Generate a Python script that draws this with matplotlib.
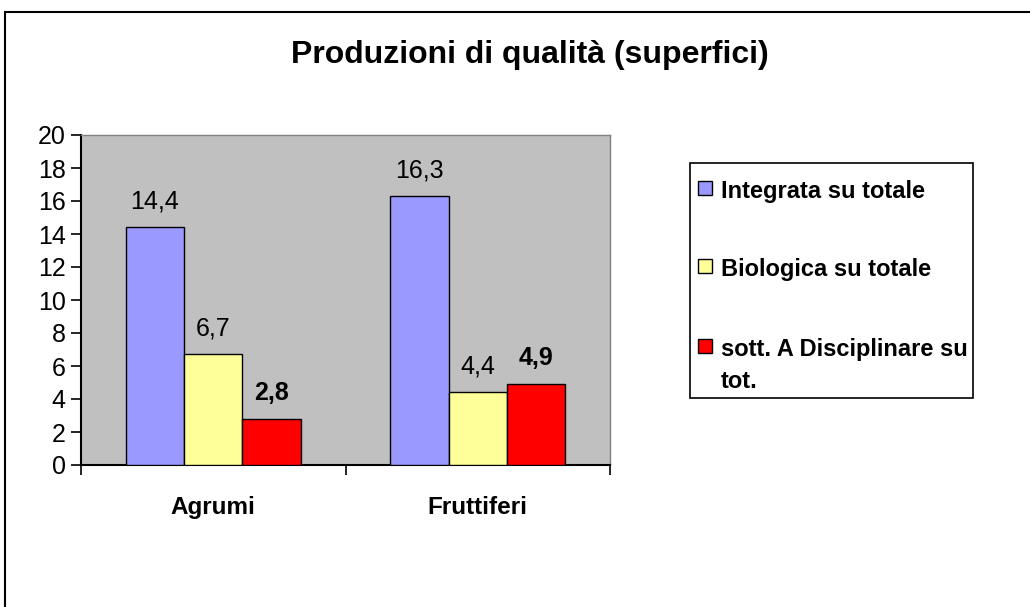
import matplotlib
matplotlib.use("Agg")
import matplotlib.pyplot as plt
from matplotlib.patches import Rectangle
import numpy as np

plt.rcParams['font.family'] = ['Liberation Sans', 'DejaVu Sans']

categories = ["Agrumi", "Fruttiferi"]
series_names = ["Integrata su totale", "Biologica su totale", "sott. A Disciplinare su\ntot."]
values = {
    "Integrata su totale": [14.4, 16.3],
    "Biologica su totale": [6.7, 4.4],
    "sott. A Disciplinare su\ntot.": [2.8, 4.9],
}
colors = ["#9999FF", "#FFFF99", "#FF0000"]
label_bold = [False, False, True]
yticks = [0, 2, 4, 6, 8, 10, 12, 14, 16, 18, 20]
title = "Produzioni di qualità (superfici)"

W, H = 1030, 607
fig = plt.figure(figsize=(W / 100, H / 100), dpi=100)

# outer frame
fig.patches.append(Rectangle((5 / W, -0.1), 1.2, 1 - 12 / H + 0.1, transform=fig.transFigure,
                             fill=False, edgecolor="black", linewidth=1.5))

left, right, top, bottom = 81, 610, 135, 465
ax = fig.add_axes([left / W, 1 - bottom / H, (right - left) / W, (bottom - top) / H])
ax.set_facecolor("#C0C0C0")

x = np.arange(len(categories))
bw = 0.662 / 3
for i, name in enumerate(series_names):
    pos = x + (i - 1) * bw
    bars = ax.bar(pos, values[name], width=bw, color=colors[i], edgecolor="black",
                  linewidth=1, label=name, zorder=3)
    for b, v in zip(bars, values[name]):
        ax.annotate(f"{v:.1f}".replace(".", ","), (b.get_x() + b.get_width() / 2, v),
                    xytext=(0, 26), textcoords="offset pixels", ha="center", va="center",
                    fontsize=18, fontweight="bold" if label_bold[i] else "normal")

ax.set_xlim(-0.5, 1.5)
ax.set_ylim(0, 20)
ax.set_yticks(yticks)
ax.set_yticklabels([str(t) for t in yticks], fontsize=18)
ax.set_xticks([-0.5, 0.5, 1.5])
ax.set_xticklabels([])
ax.set_xticks([0, 1], minor=True)
ax.set_xticklabels(categories, minor=True, fontsize=17.5, fontweight="bold")
ax.tick_params(axis="x", which="minor", length=0, pad=22)
ax.tick_params(axis="x", which="major", direction="out", length=7, width=1.2)
ax.tick_params(axis="y", direction="out", length=7, width=1.2, pad=4)
for s in ["top", "right"]:
    ax.spines[s].set_color("#808080")
    ax.spines[s].set_linewidth(1)
for s in ["left", "bottom"]:
    ax.spines[s].set_color("black")
    ax.spines[s].set_linewidth(1.5)

fig.text(530 / W, 1 - 55 / H, title, ha="center", va="center", fontsize=23, fontweight="bold")

# legend box
lx0, ly0, lx1, ly1 = 690, 163, 973, 398
fig.patches.append(Rectangle((lx0 / W, 1 - ly1 / H), (lx1 - lx0) / W, (ly1 - ly0) / H,
                             transform=fig.transFigure, fill=True, facecolor="white",
                             edgecolor="black", linewidth=1.2))
entry_y = [190, 268, 348]
line_gap = 32
for i, name in enumerate(series_names):
    fig.patches.append(Rectangle((698 / W, 1 - (entry_y[i] + 5) / H), 14 / W, 14 / H,
                                 transform=fig.transFigure, facecolor=colors[i],
                                 edgecolor="black", linewidth=1))
    for k, line in enumerate(name.split("\n")):
        fig.text(721 / W, 1 - (entry_y[i] + 8 + k * line_gap) / H, line, ha="left",
                 va="baseline", fontsize=17, fontweight="bold")

fig.savefig("out.png", dpi=100)
